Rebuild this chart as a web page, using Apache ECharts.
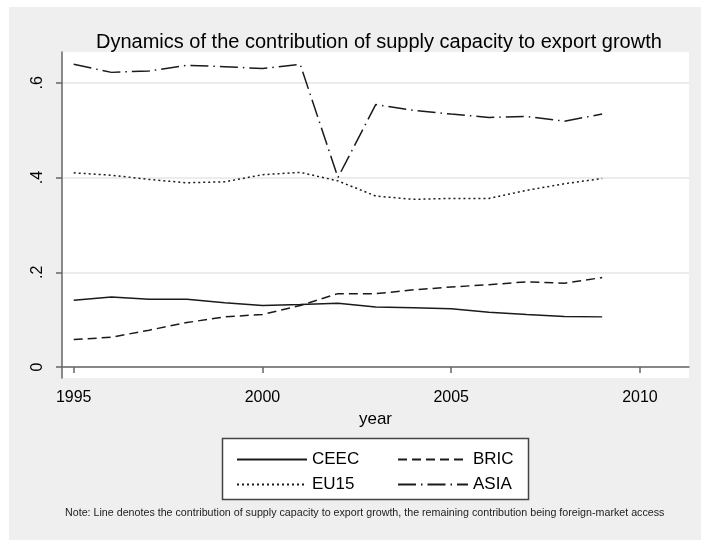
<!DOCTYPE html>
<html>
<head>
<meta charset="utf-8">
<script src="https://cdn.jsdelivr.net/npm/echarts@6/dist/echarts.min.js"></script>
<style>
  html, body { margin: 0; padding: 0; background: #fff; }
  #main { width: 701px; height: 540px; }
</style>
</head>
<body>
<div id="main"></div>
<script>
// data
const years = [1995, 1996, 1997, 1998, 1999, 2000, 2001, 2002, 2003, 2004, 2005, 2006, 2007, 2008, 2009];
const ceec = [0.141, 0.148, 0.143, 0.143, 0.136, 0.130, 0.132, 0.135, 0.127, 0.125, 0.123, 0.116, 0.111, 0.107, 0.106];
const bric = [0.058, 0.063, 0.078, 0.094, 0.106, 0.111, 0.130, 0.155, 0.155, 0.163, 0.169, 0.174, 0.180, 0.177, 0.189];
const eu15 = [0.410, 0.405, 0.396, 0.389, 0.391, 0.406, 0.411, 0.393, 0.361, 0.354, 0.356, 0.356, 0.373, 0.387, 0.398];
const asia = [0.639, 0.622, 0.625, 0.637, 0.634, 0.630, 0.639, 0.400, 0.554, 0.542, 0.534, 0.527, 0.529, 0.519, 0.534];
const xTicks = [1995, 2000, 2005, 2010];
const yTicks = [0, 0.2, 0.4, 0.6];

const font = "'Liberation Sans', Arial, Helvetica, sans-serif";
const ink = '#1a1a1a';

function pairs(vals) {
  return years.map((y, i) => [y, vals[i]]);
}

function lineSeries(name, vals, dash) {
  return {
    name: name,
    type: 'line',
    data: pairs(vals),
    showSymbol: false,
    symbol: 'none',
    animation: false,
    lineStyle: { color: ink, width: 1.5, type: dash },
    itemStyle: { color: ink }
  };
}

var chart = echarts.init(document.getElementById('main'));

var legendBase = {
  orient: 'vertical',
  itemWidth: 70,
  itemHeight: 14,
  itemGap: 8,
  itemStyle: { opacity: 0 },
  textStyle: { fontFamily: font, fontSize: 17, color: '#000' },
  selectedMode: false,
  z: 10
};

var option = {
  backgroundColor: '#efefef',
  animation: false,
  title: {
    text: 'Dynamics of the contribution of supply capacity to export growth',
    left: 91,
    top: 27,
    textStyle: { fontFamily: font, fontSize: 20, fontWeight: 'normal', color: '#000' }
  },
  grid: {
    left: 62, right: 12, top: 52, bottom: 162,
    show: true, backgroundColor: '#fff', borderWidth: 0
  },
  xAxis: {
    type: 'value',
    min: 1994.69,
    max: 2011.3,
    name: 'year',
    nameLocation: 'middle',
    nameGap: 32,
    nameTextStyle: { fontFamily: font, fontSize: 17, color: '#000' },
    axisLine: { show: true, lineStyle: { color: '#666', width: 1.5 } },
    axisTick: { show: true, length: 6, customValues: xTicks, lineStyle: { color: '#666', width: 1.5 } },
    axisLabel: {
      customValues: xTicks, margin: 12, fontFamily: font, fontSize: 16, color: '#000',
      formatter: v => String(v)
    },
    splitLine: { show: false }
  },
  yAxis: {
    type: 'value',
    min: -0.023,
    max: 0.665,
    axisLine: { show: true, lineStyle: { color: '#666', width: 1.5 } },
    axisTick: { show: true, length: 6, customValues: yTicks, lineStyle: { color: '#666', width: 1.5 } },
    axisLabel: {
      customValues: yTicks, rotate: 90, margin: 16,
      fontFamily: font, fontSize: 16, color: '#000',
      formatter: v => v === 0 ? '0' : String(v).replace(/^0/, '')
    },
    splitLine: { show: true, lineStyle: { color: '#e6e6e6', width: 1.5 } }
  },
  legend: [
    Object.assign({}, legendBase, { data: ['CEEC', 'EU15'], left: 231, top: 446 }),
    Object.assign({}, legendBase, { data: ['BRIC', 'ASIA'], left: 392, top: 446 })
  ],
  graphic: [
    // white page margins around the grey panel
    { type: 'rect', shape: { x: 0, y: 0, width: 701, height: 7 }, style: { fill: '#fff' }, silent: true },
    { type: 'rect', shape: { x: 0, y: 0, width: 9, height: 540 }, style: { fill: '#fff' }, silent: true },
    // legend box
    { type: 'rect', z: 1, shape: { x: 222.5, y: 438.5, width: 306, height: 61 },
      style: { fill: '#fff', stroke: '#444', lineWidth: 1.5 }, silent: true },
    { type: 'text', left: 65, top: 508, z: 1,
      style: {
        text: 'Note: Line denotes the contribution of supply capacity to export growth, the remaining contribution being foreign-market access',
        fontFamily: font, fontSize: 10.7, fill: '#222'
      }
    }
  ],
  series: [
    lineSeries('CEEC', ceec, 'solid'),
    lineSeries('BRIC', bric, [9, 5]),
    lineSeries('EU15', eu15, [2, 3]),
    lineSeries('ASIA', asia, [18, 5, 1.5, 5])
  ]
};

chart.setOption(option);
</script>
</body>
</html>
